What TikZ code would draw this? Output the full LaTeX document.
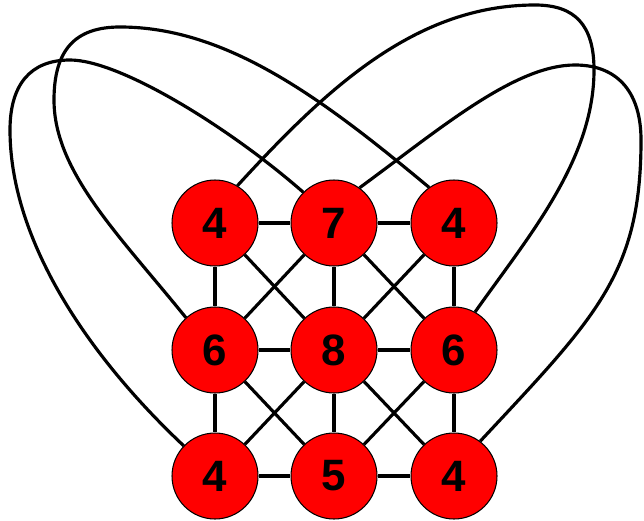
\documentclass[tikz,border=0pt]{standalone}
\usepackage{fontspec}
\setmainfont{Liberation Sans}
\begin{document}
\begin{tikzpicture}[x=0.02cm,y=-0.02cm,line width=1.8pt,
    vtx/.style={circle,draw,line width=0.6pt,fill=red,minimum size=1.72cm,inner sep=0pt,
      font=\bfseries\fontsize{25}{30}\selectfont}]
  \useasboundingbox (0,0) rectangle (644,520);
  \node[vtx] (tl) at (215,223) {4};
  \node[vtx] (tm) at (334,223) {7};
  \node[vtx] (tr) at (454,223) {4};
  \node[vtx] (ml) at (215,350) {6};
  \node[vtx] (mm) at (334,350) {8};
  \node[vtx] (mr) at (454,350) {6};
  \node[vtx] (bl) at (215,476) {4};
  \node[vtx] (bm) at (334,476) {5};
  \node[vtx] (br) at (454,476) {4};
  % grid
  \draw (tl) -- (tm) -- (tr) (ml) -- (mm) -- (mr) (bl) -- (bm) -- (br);
  \draw (tl) -- (ml) -- (bl) (tm) -- (mm) -- (bm) (tr) -- (mr) -- (br);
  \draw (tl) -- (mm) -- (br) (tr) -- (mm) -- (bl);
  \draw (tm) -- (ml) -- (bm) -- (mr) -- (tm);
  % outer loops
  \draw (tl.59) .. controls (326,89) and (415,5) .. (535,5) .. controls (575,5) and (594,25) .. (594,70)
    .. controls (594,160) and (528,237) .. (mr.61);
  \draw (tm.54) .. controls (441,128) and (515,65) .. (575,65) .. controls (620,65) and (641,95) .. (641,140)
    .. controls (641,274) and (596,317) .. (br.53);
  \draw (tr.125) .. controls (323,99) and (227,27) .. (120,27) .. controls (75,27) and (54,50) .. (54,100)
    .. controls (54,172) and (120,236) .. (ml.132);
  \draw (tm.135) .. controls (230,128) and (120,60) .. (70,60) .. controls (30,60) and (10,85) .. (10,130)
    .. controls (10,234) and (80,348) .. (bl.136);
\end{tikzpicture}
\end{document}
